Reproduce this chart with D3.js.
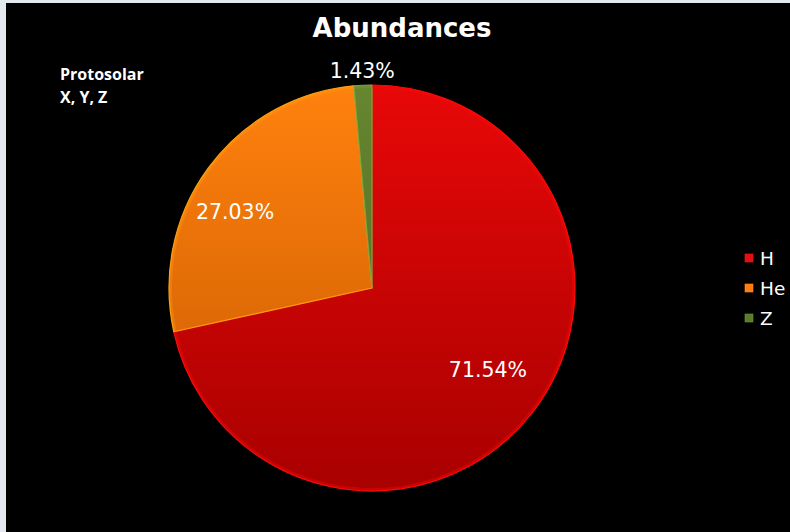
<!DOCTYPE html>
<html>
<head>
<meta charset="utf-8">
<script src="https://cdn.jsdelivr.net/npm/d3@7/dist/d3.min.js"></script>
<style>
  html, body { margin: 0; padding: 0; background: #e3e9ef; }
  svg { display: block; }
</style>
</head>
<body>
<svg id="chart" width="790" height="532"></svg>
<script>
// Protosolar mass fractions X (H), Y (He), Z (metals)
const categories = ["H", "He", "Z"];
const values = [71.54, 27.03, 1.43];
const labels = ["71.54%", "27.03%", "1.43%"];
const colorsTop = ["#e80808", "#ff820e", "#668630"];
const colorsBottom = ["#a80000", "#c85800", "#4a6420"];
const legendColors = ["#e01010", "#ff7a10", "#5c7c2c"];

const W = 790, H = 532;
const svg = d3.select("#chart");

// black chart area inside a light frame
svg.append("rect").attr("x", 6).attr("y", 3).attr("width", W - 6).attr("height", H - 3).attr("fill", "#000");

const defs = svg.append("defs");
categories.forEach((c, i) => {
  const g = defs.append("linearGradient").attr("id", "grad" + i)
    .attr("gradientUnits", "userSpaceOnUse")
    .attr("x1", 0).attr("y1", -205).attr("x2", 0).attr("y2", 205);
  g.append("stop").attr("offset", "0%").attr("stop-color", colorsTop[i]);
  g.append("stop").attr("offset", "100%").attr("stop-color", colorsBottom[i]);
});

const cx = 372, cy = 288, r = 203;
const pie = d3.pie().sort(null).value(d => d);
const arcs = pie(values);
const arc = d3.arc().innerRadius(0).outerRadius(r);
const arcEdge = d3.arc().innerRadius(r - 3).outerRadius(r);

const g = svg.append("g").attr("transform", `translate(${cx},${cy})`);
g.selectAll("path.slice").data(arcs).enter().append("path")
  .attr("class", "slice")
  .attr("d", arc)
  .attr("fill", (d, i) => `url(#grad${i})`)
  .attr("stroke", (d, i) => d3.color(colorsTop[i]).brighter(0.6))
  .attr("stroke-width", 1.2)
  .attr("stroke-linejoin", "round");

// soft bevel along the rim
g.selectAll("path.rim").data(arcs).enter().append("path")
  .attr("class", "rim")
  .attr("d", arcEdge)
  .attr("fill", (d, i) => d3.color(colorsTop[i]).brighter(0.5))
  .attr("opacity", 0.35);

// data labels: large slices inside, the thin slice just outside the rim
const inner = d3.arc().innerRadius(r * 0.72).outerRadius(r * 0.72);
const outer = d3.arc().innerRadius(r * 1.07).outerRadius(r * 1.07);
const nudge = [[2, -10], [-19, 10], [0, 0]];
g.selectAll("text.lbl").data(arcs).enter().append("text")
  .attr("class", "lbl")
  .attr("transform", (d, i) => {
    const p = i === 2 ? outer.centroid(d) : inner.centroid(d);
    return `translate(${p[0] + nudge[i][0]},${p[1] + nudge[i][1]})`;
  })
  .attr("text-anchor", "middle")
  .attr("dominant-baseline", "central")
  .attr("fill", "#fff")
  .attr("font-family", "DejaVu Sans, Verdana, sans-serif")
  .attr("font-size", 20.5)
  .text((d, i) => labels[i]);

// title
svg.append("text").attr("x", 402).attr("y", 37)
  .attr("text-anchor", "middle")
  .attr("fill", "#fff")
  .attr("font-family", "DejaVu Sans, Verdana, sans-serif")
  .attr("font-weight", "bold")
  .attr("font-size", 26)
  .text("Abundances");

// note in the top-left corner
const note = svg.append("text").attr("fill", "#fff")
  .attr("font-family", "Open Sans, Liberation Sans, sans-serif")
  .attr("font-weight", "bold").attr("font-size", 16);
note.append("tspan").attr("x", 60).attr("y", 80).text("Protosolar");
note.append("tspan").attr("x", 60).attr("y", 103).text("X, Y, Z");

// legend
const leg = svg.append("g");
categories.forEach((c, i) => {
  const y = 258 + i * 30;
  leg.append("rect").attr("x", 745).attr("y", y - 4).attr("width", 8).attr("height", 8)
    .attr("fill", legendColors[i]).attr("stroke", d3.color(legendColors[i]).brighter(0.5)).attr("stroke-width", 0.6);
  leg.append("text").attr("x", 760).attr("y", y)
    .attr("dominant-baseline", "central")
    .attr("fill", "#fff")
    .attr("font-family", "DejaVu Sans, Verdana, sans-serif")
    .attr("font-size", 18.5)
    .text(c);
});
</script>
</body>
</html>
